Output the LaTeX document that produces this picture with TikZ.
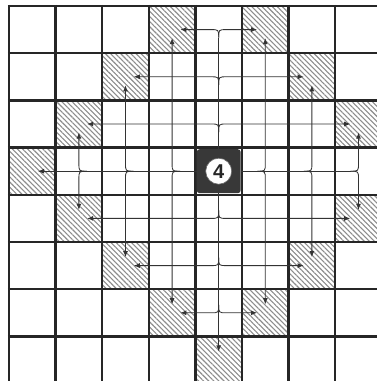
\documentclass[tikz,border=0pt]{standalone}
\usepackage{fontspec}
\setsansfont{Liberation Sans}
\usetikzlibrary{calc,arrows.meta,patterns.meta}
\begin{document}
\begin{tikzpicture}[x=1pt,y=-1pt,
  gridline/.style={line width=2.3pt, draw=black!85},
  route/.style={line width=0.85pt, draw=black!80},
  arr/.style={route, -{Latex[length=6pt,width=5pt]}},
  hatch/.style={pattern={Lines[angle=-45,distance=3.6pt,line width=1.1pt]}, pattern color=black!45}]
\useasboundingbox (0,0) rectangle (377,381);
\fill[white] (0,0) rectangle (377,381);
\begin{scope}
\clip (0,0) rectangle (377,381);
\foreach \c/\r in {3/0,5/0,2/1,6/1,1/2,7/2,0/3,1/4,7/4,2/5,6/5,3/6,5/6,4/7}
  \fill[hatch] ({9+46.6*\c},{6+47.2*\r}) rectangle ++(46.6,47.2);
\foreach \i in {0,...,8} \draw[gridline] ({9+46.6*\i},4.85) -- ({9+46.6*\i},390);
\foreach \j in {0,...,8} \draw[gridline] (7.85,{6+47.2*\j}) -- (390,{6+47.2*\j});
\end{scope}
% centre piece
\node[fill=black!78, rounded corners=3pt, minimum width=44pt, minimum height=44pt, inner sep=0pt] (ctr) at (218.7,171.2) {};
\node[circle, fill=white, draw=black!60, line width=0.6pt, minimum size=26pt, inner sep=0pt,
      font=\sffamily\bfseries\fontsize{20}{20}\selectfont, text=black!85] (four) at (ctr.center) {4};
% upward branches
\foreach \k in {0,1,2} {
  \pgfmathsetmacro\yy{6+47.2*(\k+0.5)}
  \pgfmathsetmacro\xl{9+46.6*(3-\k+1)-15}
  \pgfmathsetmacro\xr{9+46.6*(5+\k)+15}
  \coordinate (ju\k) at (218.7,\yy);
  \coordinate (tul\k) at (\xl,\yy);
  \coordinate (tur\k) at (\xr,\yy);
  \draw[arr] ($(ju\k)+(0,8)$) .. controls (ju\k) .. ($(ju\k)+(-8,0)$) -- (tul\k);
  \draw[arr] ($(ju\k)+(0,8)$) .. controls (ju\k) .. ($(ju\k)+(8,0)$) -- (tur\k);
}
\draw[route] (ctr.north) -- ($(ju0)+(0,8)$);
% downward branches
\foreach \k in {4,5,6} {
  \pgfmathsetmacro\yy{6+47.2*(\k+0.5)}
  \pgfmathsetmacro\xl{9+46.6*(\k-3+1)-15}
  \pgfmathsetmacro\xr{9+46.6*(11-\k)+15}
  \coordinate (jd\k) at (218.7,\yy);
  \coordinate (tdl\k) at (\xl,\yy);
  \coordinate (tdr\k) at (\xr,\yy);
  \draw[arr] ($(jd\k)+(0,-8)$) .. controls (jd\k) .. ($(jd\k)+(-8,0)$) -- (tdl\k);
  \draw[arr] ($(jd\k)+(0,-8)$) .. controls (jd\k) .. ($(jd\k)+(8,0)$) -- (tdr\k);
}
\coordinate (tdown) at (218.7,351.4);
\draw[arr] (ctr.south) -- (tdown);
% leftward branches
\foreach \k in {1,2,3} {
  \pgfmathsetmacro\xx{9+46.6*(\k+0.5)}
  \pgfmathsetmacro\yu{6+47.2*(3-\k+1)-15}
  \pgfmathsetmacro\yd{6+47.2*(3+\k)+15}
  \coordinate (jl\k) at (\xx,171.2);
  \coordinate (tlu\k) at (\xx,\yu);
  \coordinate (tld\k) at (\xx,\yd);
  \draw[arr] ($(jl\k)+(8,0)$) .. controls (jl\k) .. ($(jl\k)+(0,-8)$) -- (tlu\k);
  \draw[arr] ($(jl\k)+(8,0)$) .. controls (jl\k) .. ($(jl\k)+(0,8)$) -- (tld\k);
}
\coordinate (tleft) at (38,171.2);
\draw[arr] (ctr.west) -- (tleft);
% rightward branches
\foreach \k in {5,6,7} {
  \pgfmathsetmacro\xx{9+46.6*(\k+0.5)}
  \pgfmathsetmacro\yu{6+47.2*(\k-4)-15}
  \pgfmathsetmacro\yd{6+47.2*(11-\k)+15}
  \coordinate (jr\k) at (\xx,171.2);
  \coordinate (tru\k) at (\xx,\yu);
  \coordinate (trd\k) at (\xx,\yd);
  \draw[arr] ($(jr\k)+(-8,0)$) .. controls (jr\k) .. ($(jr\k)+(0,-8)$) -- (tru\k);
  \draw[arr] ($(jr\k)+(-8,0)$) .. controls (jr\k) .. ($(jr\k)+(0,8)$) -- (trd\k);
}
\draw[route] (ctr.east) -- ($(jr7)+(-8,0)$);
\end{tikzpicture}
\end{document}
